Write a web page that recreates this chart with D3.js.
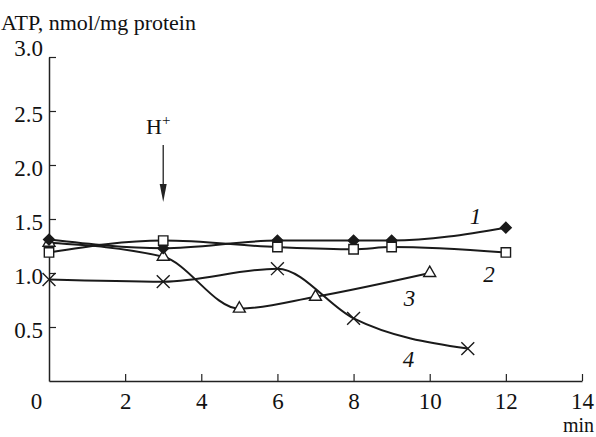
<!DOCTYPE html>
<html>
<head>
<meta charset="utf-8">
<script src="https://cdn.jsdelivr.net/npm/d3@7"></script>
<style>
  body { margin: 0; background: #fff; }
  text { font-family: "Liberation Serif", "Times New Roman", serif; fill: #111; }
</style>
</head>
<body>
<div id="chart-area"></div>
<script>
// data
const xTicks = [0, 2, 4, 6, 8, 10, 12, 14];
const yTicks = [0.5, 1.0, 1.5, 2.0, 2.5, 3.0];

const s1x = [0, 3, 6, 8, 9, 12];
const s1y = [1.31, 1.23, 1.30, 1.30, 1.30, 1.42];
const s2x = [0, 3, 6, 8, 9, 12];
const s2y = [1.19, 1.30, 1.24, 1.22, 1.24, 1.19];
const s3x = [0, 3, 5, 7, 10];
const s3y = [1.28, 1.15, 0.67, 0.78, 1.00];
const s4x = [0, 3, 6, 8, 11];
const s4y = [0.94, 0.92, 1.04, 0.58, 0.30];

const W = 596, H = 437;
const margin = { top: 57, right: 14, bottom: 56, left: 49 };
const width = W - margin.left - margin.right;
const height = H - margin.top - margin.bottom;

const svg = d3.select("#chart-area")
  .append("svg")
    .attr("width", W)
    .attr("height", H);

const chart = svg.append("g")
    .attr("transform", `translate(${margin.left},${margin.top})`);

const xScale = d3.scaleLinear().domain([0, 14]).range([0, width]);
const yScale = d3.scaleLinear().domain([0, 3]).range([height, 0]);

// axes with inward ticks
const xAxis = chart.append("g")
    .attr("transform", `translate(0,${height})`)
    .call(d3.axisBottom(xScale).tickValues(xTicks).tickSizeInner(-7).tickSizeOuter(0).tickPadding(12)
      .tickFormat(d3.format("d")));
xAxis.select(".domain").attr("stroke", "#222").attr("stroke-width", 1.5);
xAxis.selectAll(".tick line").attr("stroke", "#222").attr("stroke-width", 1.2);
xAxis.selectAll(".tick").filter(d => d === 0).select("line").remove();
xAxis.selectAll(".tick text")
    .attr("font-size", 23)
    .attr("dx", d => d === 0 ? -13 : 0);

const yAxis = chart.append("g")
    .call(d3.axisLeft(yScale).tickValues(yTicks).tickSizeInner(-7).tickSizeOuter(0).tickPadding(6)
      .tickFormat(d3.format(".1f")));
yAxis.select(".domain").attr("stroke", "#222").attr("stroke-width", 1.5);
yAxis.selectAll(".tick line").attr("stroke", "#222").attr("stroke-width", 1.2);
yAxis.selectAll(".tick text")
    .attr("font-size", 23)
    .attr("y", d => d === 3 ? -9 : 3);

svg.append("text")
    .attr("x", 1)
    .attr("y", 30)
    .attr("font-size", 22)
    .text("ATP, nmol/mg protein");

svg.append("text")
    .attr("x", 594)
    .attr("y", 432)
    .attr("text-anchor", "end")
    .attr("font-size", 20)
    .text("min");

// curves
const line = d3.line()
    .x(d => xScale(d[0]))
    .y(d => yScale(d[1]))
    .curve(d3.curveMonotoneX);

const series = [
  { id: 1, pts: d3.zip(s1x, s1y), sym: d3.symbolSquare, rot: 45, fill: "#1a1a1a", size: 58 },
  { id: 2, pts: d3.zip(s2x, s2y), sym: d3.symbolSquare, rot: 0, fill: "#fff", size: 88 },
  { id: 3, pts: d3.zip(s3x, s3y), sym: d3.symbolTriangle, rot: 0, fill: "#fff", size: 62 },
  { id: 4, pts: d3.zip(s4x, s4y), sym: d3.symbolX, rot: 0, fill: "none", size: 110 }
];

series.forEach(s => {
  chart.append("path")
      .attr("d", line(s.pts))
      .attr("fill", "none")
      .attr("stroke", "#1a1a1a")
      .attr("stroke-width", 2);
});

// markers drawn after lines; squares last so they sit on top
[series[3], series[2], series[0], series[1]].forEach(s => {
  chart.selectAll(null)
    .data(s.pts)
    .enter()
    .append("path")
      .attr("transform", d => `translate(${xScale(d[0])},${yScale(d[1])}) rotate(${s.rot})`)
      .attr("d", d3.symbol().type(s.sym).size(s.size))
      .attr("fill", s.fill)
      .attr("stroke", "#1a1a1a")
      .attr("stroke-width", 1.4);
});

// series labels
const labels = [
  { t: "1", x: 11.2, y: 1.45 },
  { t: "2", x: 11.56, y: 0.92 },
  { t: "3", x: 9.47, y: 0.69 },
  { t: "4", x: 9.44, y: 0.13 }
];
chart.selectAll(".lbl")
  .data(labels)
  .enter()
  .append("text")
    .attr("class", "lbl")
    .attr("x", d => xScale(d.x))
    .attr("y", d => yScale(d.y))
    .attr("text-anchor", "middle")
    .attr("font-size", 23)
    .attr("font-style", "italic")
    .text(d => d.t);

// H+ annotation with arrow
const hx = xScale(3);
const hLabel = chart.append("text")
    .attr("x", hx - 5)
    .attr("y", 134 - margin.top)
    .attr("text-anchor", "middle")
    .attr("font-size", 22)
    .text("H");
hLabel.append("tspan")
    .attr("font-size", 15)
    .attr("dy", -9)
    .text("+");

chart.append("line")
    .attr("x1", hx).attr("x2", hx)
    .attr("y1", 145 - margin.top).attr("y2", 195 - margin.top)
    .attr("stroke", "#222")
    .attr("stroke-width", 1.3);
chart.append("path")
    .attr("d", `M${hx - 3.5},${184 - margin.top} L${hx},${202 - margin.top} L${hx + 3.5},${184 - margin.top} Z`)
    .attr("fill", "#222");
</script>
</body>
</html>
